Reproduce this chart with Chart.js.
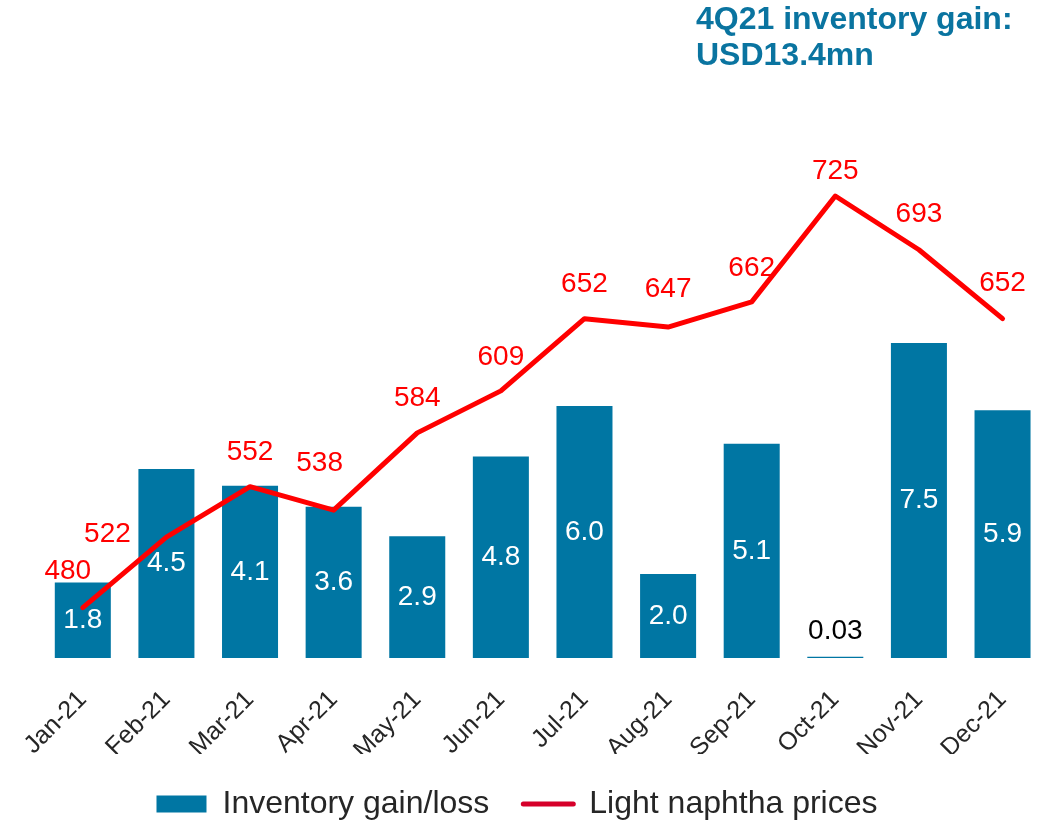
<!DOCTYPE html>
<html><head><meta charset="utf-8">
<script src="https://cdn.jsdelivr.net/npm/chart.js@4/dist/chart.umd.min.js"></script>
<style>html,body{margin:0;padding:0;background:#fff}#wrap{width:1051px;height:823px;position:relative}</style>
</head><body><div id="wrap"><canvas id="c"></canvas></div>
<script>
const months = ['Jan-21','Feb-21','Mar-21','Apr-21','May-21','Jun-21','Jul-21','Aug-21','Sep-21','Oct-21','Nov-21','Dec-21'];
const inventoryGain = [1.8, 4.5, 4.1, 3.6, 2.9, 4.8, 6.0, 2.0, 5.1, 0.03, 7.5, 5.9];
const inventoryLabels = ['1.8','4.5','4.1','3.6','2.9','4.8','6.0','2.0','5.1','0.03','7.5','5.9'];
const naphthaPrices = [480, 522, 552, 538, 584, 609, 652, 647, 662, 725, 693, 652];
const titleLines = ['4Q21 inventory gain:', 'USD13.4mn'];
const seriesNames = ['Inventory gain/loss', 'Light naphtha prices'];

const BAR_COLOR = '#0076A3';
const LINE_COLOR = '#FF0000';
const LEGEND_LINE_COLOR = '#D6002A';
const FONT = '"Liberation Sans", Arial, sans-serif';

const priceLabelOffsets = [[-15,-36],[-59,-3],[0,-34],[-14,-47],[0,-35],[0,-34],[0,-34],[0,-38],[0,-34],[0,-25],[0,-35],[0,-35]];

const labelPlugin = {
  id: 'valueLabels',
  afterDatasetsDraw(chart) {
    const ctx = chart.ctx;
    ctx.save();
    ctx.font = '28px ' + FONT;
    ctx.textAlign = 'center';
    ctx.textBaseline = 'middle';
    const barMeta = chart.getDatasetMeta(0);
    barMeta.data.forEach((bar, i) => {
      const h = bar.base - bar.y;
      if (h > 40) {
        ctx.fillStyle = '#FFFFFF';
        ctx.fillText(inventoryLabels[i], bar.x, (bar.y + bar.base) / 2);
      } else {
        ctx.fillStyle = '#000000';
        ctx.fillText(inventoryLabels[i], bar.x, bar.y - 25);
      }
    });
    const lineMeta = chart.getDatasetMeta(1);
    ctx.fillStyle = LINE_COLOR;
    lineMeta.data.forEach((pt, i) => {
      const o = priceLabelOffsets[i];
      ctx.fillText(String(naphthaPrices[i]), pt.x + o[0], pt.y + o[1]);
    });
    ctx.restore();
  }
};

const titlePlugin = {
  id: 'cornerTitle',
  afterDraw(chart) {
    const ctx = chart.ctx;
    ctx.save();
    ctx.font = 'bold 32px ' + FONT;
    ctx.fillStyle = '#0A74A0';
    ctx.textAlign = 'left';
    ctx.textBaseline = 'alphabetic';
    ctx.fillText(titleLines[0], 696, 29);
    ctx.fillText(titleLines[1], 696, 65);
    ctx.restore();
  }
};

const legendShift = {
  id: 'legendShift',
  afterLayout(chart) {
    chart.legend.left -= 26;
    chart.legend.right -= 26;
  }
};

new Chart(document.getElementById('c'), {
  data: {
    labels: months,
    datasets: [
      {
        type: 'bar',
        label: seriesNames[0],
        data: inventoryGain,
        backgroundColor: BAR_COLOR,
        yAxisID: 'y',
        order: 2,
        barPercentage: 0.67,
        categoryPercentage: 1.0
      },
      {
        type: 'line',
        label: seriesNames[1],
        data: naphthaPrices,
        borderColor: LINE_COLOR,
        backgroundColor: LINE_COLOR,
        borderWidth: 5,
        pointRadius: 0,
        tension: 0,
        borderJoinStyle: 'round',
        borderCapStyle: 'round',
        yAxisID: 'y1',
        order: 1
      }
    ]
  },
  options: {
    responsive: true,
    maintainAspectRatio: false,
    animation: false,
    layout: { padding: { top: 70, left: 41, right: 6, bottom: -7 } },
    plugins: {
      tooltip: { enabled: false },
      legend: {
        position: 'bottom',
        labels: {
          color: '#262626',
          font: { size: 32, family: FONT },
          usePointStyle: true,
          pointStyleWidth: 50,
          boxHeight: 17,
          padding: 34,
          generateLabels() {
            return [
              { text: seriesNames[0], pointStyle: 'rect', fillStyle: BAR_COLOR, strokeStyle: BAR_COLOR, lineWidth: 0, datasetIndex: 0, fontColor: '#262626' },
              { text: seriesNames[1], pointStyle: 'line', fillStyle: LEGEND_LINE_COLOR, strokeStyle: LEGEND_LINE_COLOR, lineWidth: 5, lineCap: 'round', datasetIndex: 1, fontColor: '#262626' }
            ];
          }
        }
      }
    },
    scales: {
      x: {
        grid: { display: false, drawTicks: false },
        border: { display: false },
        ticks: {
          color: '#262626',
          font: { size: 25, family: FONT },
          minRotation: 45,
          maxRotation: 45,
          padding: 27
        },
        afterFit(scale) { scale.height = 96; }
      },
      y: { display: false, min: 0, max: 14 },
      y1: { display: false, min: 450, max: 800 }
    }
  },
  plugins: [labelPlugin, titlePlugin, legendShift]
});
</script>
</body></html>
